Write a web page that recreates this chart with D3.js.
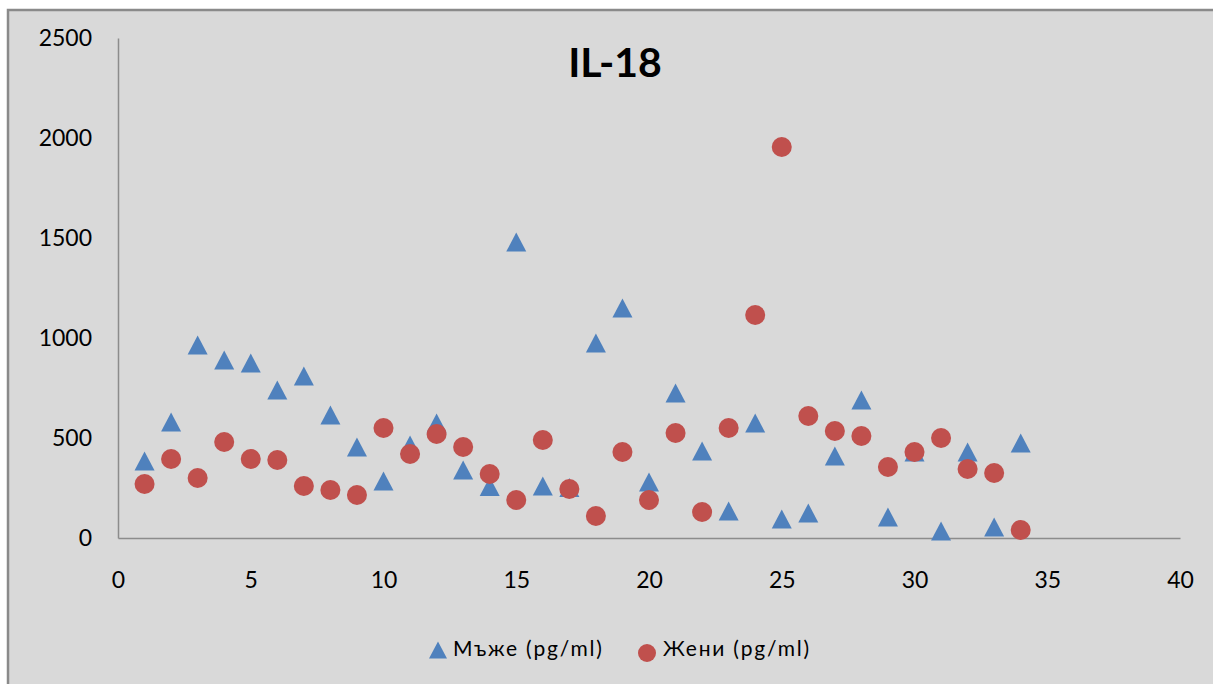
<!DOCTYPE html>
<html>
<head>
<meta charset="utf-8">
<script src="https://cdn.jsdelivr.net/npm/d3@7"></script>
<style>
  html, body { margin: 0; padding: 0; background: #ffffff; }
  svg { display: block; }
  text { font-family: Lato, "Open Sans", sans-serif; fill: #000; }
</style>
</head>
<body>
<div id="chart"></div>
<script>
// IL-18 concentrations per subject number, by sex
const title = "IL-18";
const subjects = d3.range(1, 35);
const men = [385, 580, 965, 890, 875, 740, 810, 615, 455, 285,
             465, 575, 340, 258, 1480, 260, 252, 975, 1150, 280,
             725, 435, 135, 575, 95, 125, 410, 690, 105, 430,
             35, 430, 55, 475];
const women = [270, 395, 300, 480, 395, 390, 260, 240, 215, 550,
               420, 520, 455, 320, 190, 490, 245, 110, 430, 190,
               525, 130, 550, 1115, 1955, 610, 535, 510, 355, 430,
               500, 345, 325, 40];
const seriesNames = ["Мъже (pg/ml)", "Жени (pg/ml)"];
const xTicks = [0, 5, 10, 15, 20, 25, 30, 35, 40];
const yTicks = [0, 500, 1000, 1500, 2000, 2500];

const W = 1213, H = 684;
const blue = "#4f81bd", red = "#c0504d";

const svg = d3.select("#chart").append("svg")
  .attr("width", W).attr("height", H);

// chart area with its frame
svg.append("rect")
  .attr("x", 8).attr("y", 10).attr("width", W).attr("height", H)
  .attr("fill", "#d9d9d9").attr("stroke", "#8a8a8a").attr("stroke-width", 2.5);

const x = d3.scaleLinear().domain([0, 40]).range([118, 1180]);
const y = d3.scaleLinear().domain([0, 2500]).range([538, 38]);

// axes: plain lines with labels, no tick marks
const xAxis = svg.append("g")
  .attr("transform", `translate(0,${y(0)})`)
  .call(d3.axisBottom(x).tickValues(xTicks).tickSize(0).tickPadding(34)
    .tickFormat(d3.format("d")));
const yAxis = svg.append("g")
  .attr("transform", `translate(${x(0)},0)`)
  .call(d3.axisLeft(y).tickValues(yTicks).tickSize(0).tickPadding(26)
    .tickFormat(d3.format("d")));
[xAxis, yAxis].forEach(g => {
  g.select(".domain").attr("stroke", "#8c8c8c").attr("stroke-width", 1.5);
  g.selectAll("text").style("font-family", "Lato, sans-serif")
    .style("font-size", "23px").attr("fill", "#000");
});

// title
svg.append("text")
  .attr("x", 615).attr("y", 77)
  .attr("text-anchor", "middle")
  .style("font-size", "41px").style("font-weight", "bold")
  .text(title);

// upward triangle whose bounding box is centred on the point
const triangle = (w, h) => `M0,${-h / 2}L${w / 2},${h / 2}L${-w / 2},${h / 2}Z`;
const circ = d3.symbol().type(d3.symbolCircle).size(315);

// men: blue triangles
svg.append("g").selectAll("path")
  .data(subjects.map((s, i) => ({ s, v: men[i] })))
  .join("path")
  .attr("d", triangle(20, 19))
  .attr("transform", d => `translate(${x(d.s)},${y(d.v)})`)
  .attr("fill", blue);

// women: red circles
svg.append("g").selectAll("path")
  .data(subjects.map((s, i) => ({ s, v: women[i] })))
  .join("path")
  .attr("d", circ)
  .attr("transform", d => `translate(${x(d.s)},${y(d.v)})`)
  .attr("fill", red);

// legend
const leg = svg.append("g");
leg.append("path").attr("d", triangle(18, 17))
  .attr("transform", "translate(438,650)").attr("fill", blue);
leg.append("text").attr("x", 453).attr("y", 656)
  .style("font-size", "21px").style("letter-spacing", "1.8px").text(seriesNames[0]);
leg.append("path").attr("d", d3.symbol().type(d3.symbolCircle).size(255))
  .attr("transform", "translate(647,653)").attr("fill", red);
leg.append("text").attr("x", 663).attr("y", 656)
  .style("font-size", "21px").style("letter-spacing", "1.8px").text(seriesNames[1]);
</script>
</body>
</html>
